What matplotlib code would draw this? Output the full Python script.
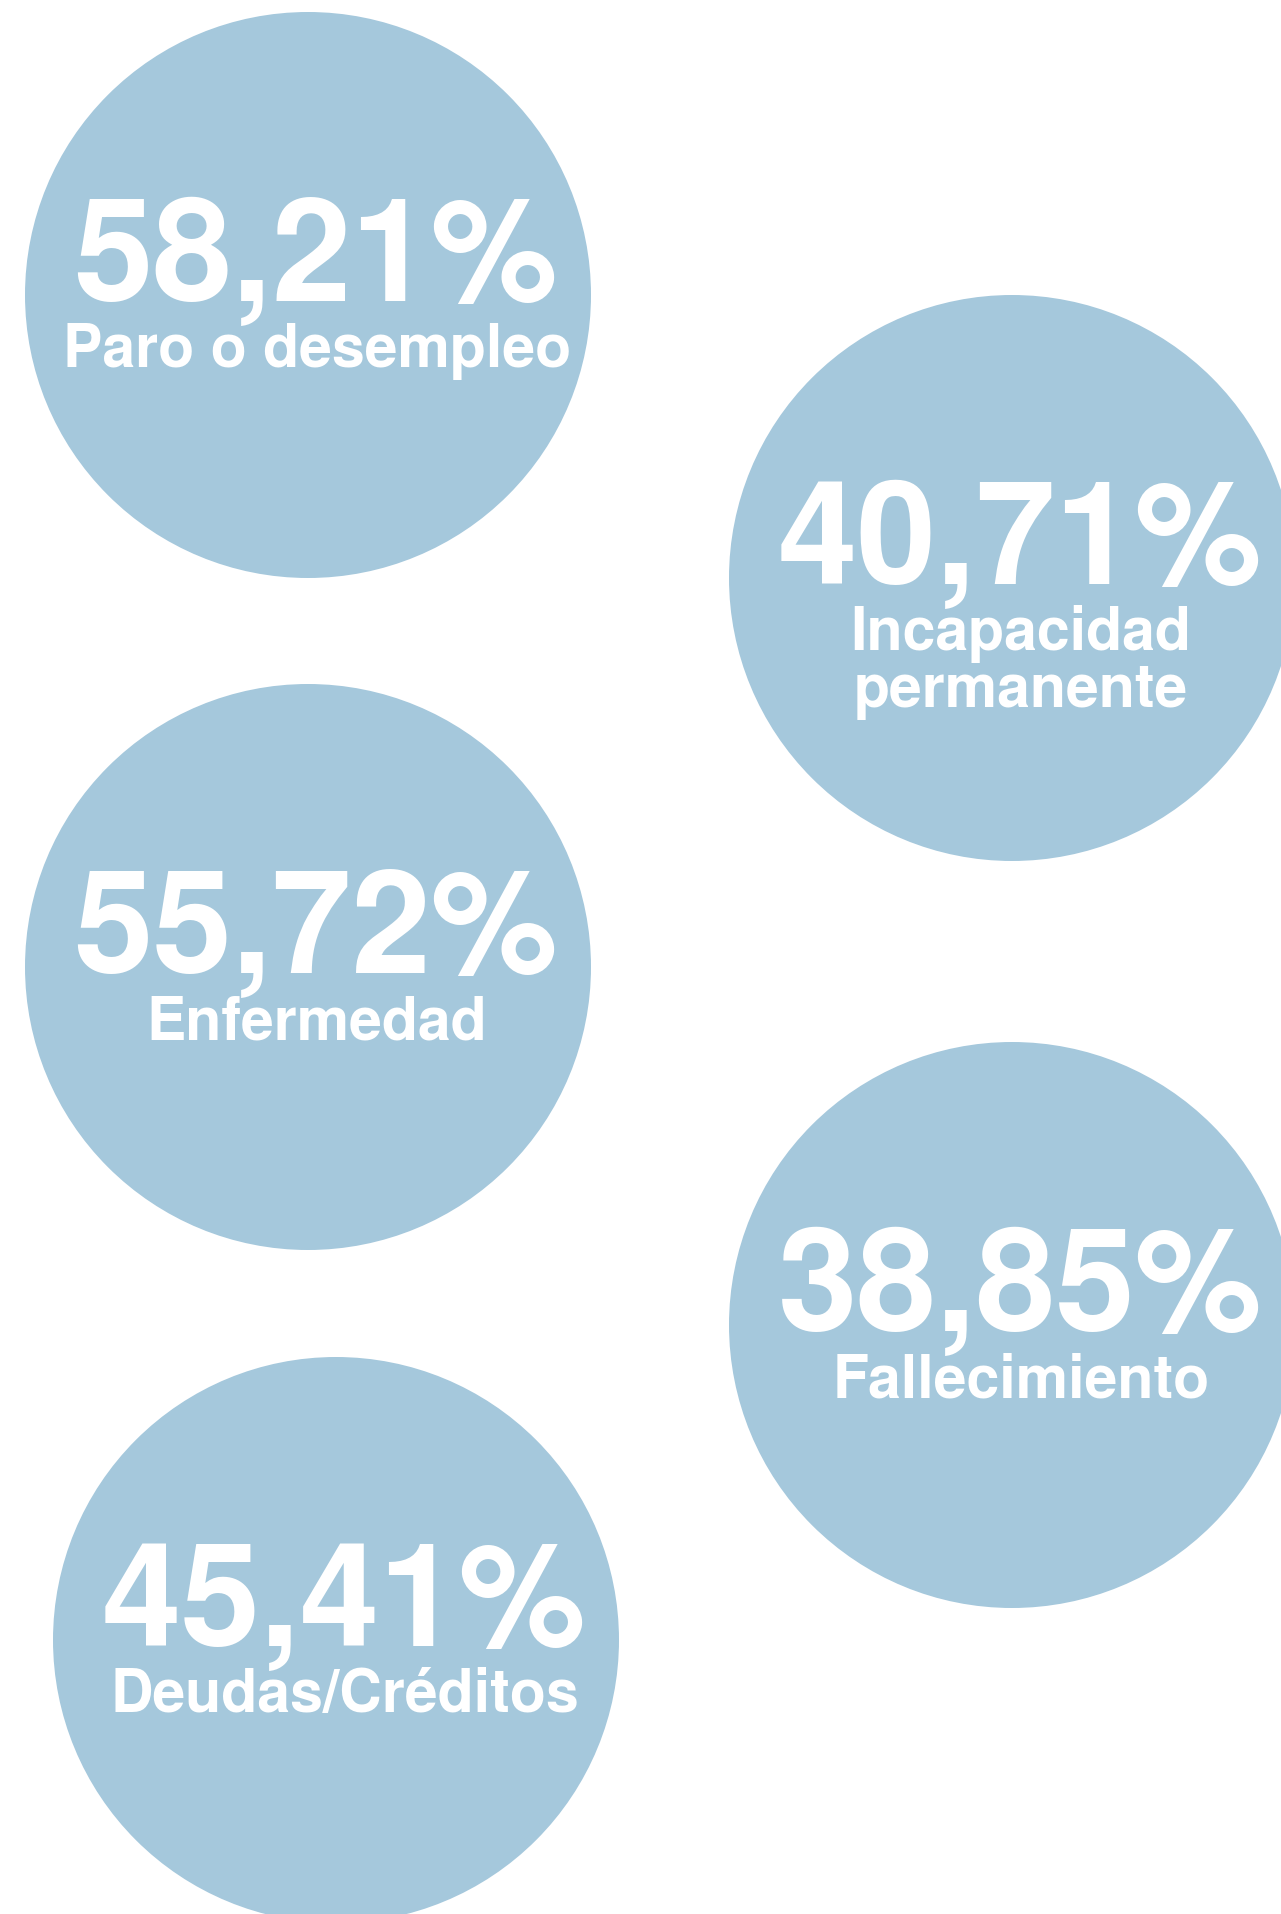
import matplotlib.pyplot as plt
from matplotlib.patches import Circle

# datos
valores = [58.21, 40.71, 55.72, 38.85, 45.41]
etiquetas = ['Paro o desempleo', 'Incapacidad\npermanente', 'Enfermedad',
             'Fallecimiento', 'Deudas/Créditos']

# posiciones de los circulos (pixeles, y hacia abajo)
centros = [(308, 295), (1012, 578), (308, 967), (1012, 1325), (336, 1640)]
radio = 283
azul = '#a5c8dc'

W, H = 1281, 1914
fig = plt.figure(figsize=(W / 100, H / 100), dpi=100)
ax = fig.add_axes([0, 0, 1, 1])
ax.set_xlim(0, W)
ax.set_ylim(H, 0)
ax.set_aspect('equal')
ax.axis('off')

px = 0.72  # puntos por pixel a dpi 100
fuente = ['TeX Gyre Heros', 'Liberation Sans', 'DejaVu Sans']

for v, et, (cx, cy) in zip(valores, etiquetas, centros):
    ax.add_patch(Circle((cx, cy), radio, color=azul, lw=0))
    num = f'{v:.2f}'.replace('.', ',') + '%'
    lineas = et.split('\n')
    base = cy + 6
    ax.text(cx + 8, base, num, fontsize=143 * px, fontweight='bold',
            family=fuente, color='white', ha='center', va='baseline')
    for i, l in enumerate(lineas):
        ax.text(cx + 9, base + 66 + i * 57, l, fontsize=59 * px,
                fontweight='bold', family=fuente, color='white',
                ha='center', va='baseline')

fig.savefig('out.png', dpi=100, facecolor='white')
